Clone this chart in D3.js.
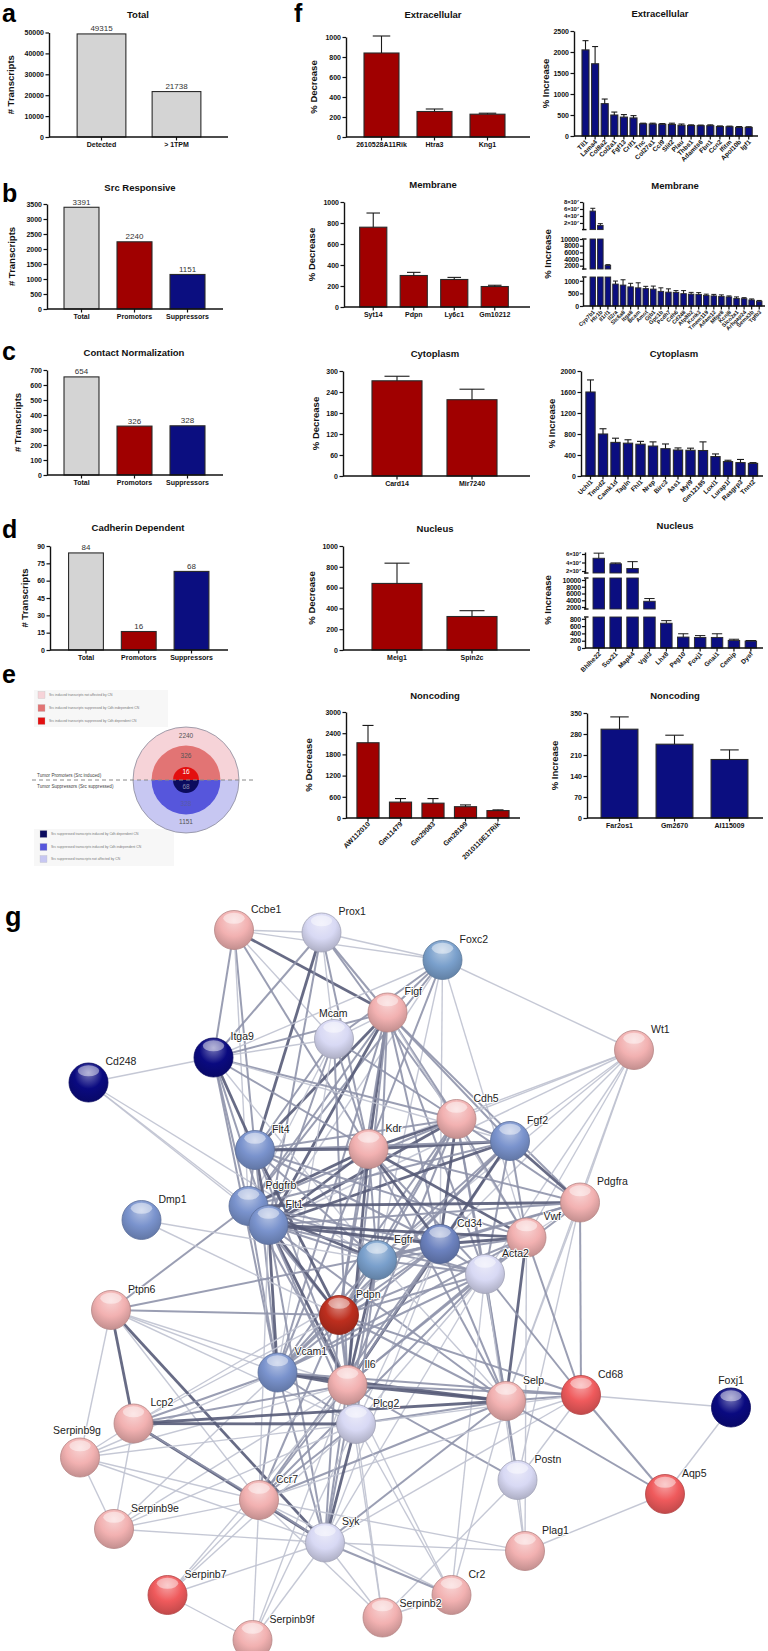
<!DOCTYPE html>
<html><head><meta charset="utf-8">
<script src="https://cdn.jsdelivr.net/npm/d3@7"></script>
<style>
body{margin:0;background:#fff;}
svg{display:block;font-family:"Liberation Sans",Arial,sans-serif;}
</style></head><body>
<svg id="fig" width="768" height="1651"></svg>
<script>
// ---------------- DATA ----------------
const aCats = ["Detected", "> 1TPM"];
const aVals = [49315, 21738];
const aTicks = [0, 10000, 20000, 30000, 40000, 50000];

const bCats = ["Total", "Promotors", "Suppressors"];
const bVals = [3391, 2240, 1151];
const bTicks = [0, 500, 1000, 1500, 2000, 2500, 3000, 3500];

const cCats = ["Total", "Promotors", "Suppressors"];
const cVals = [654, 326, 328];
const cTicks = [0, 100, 200, 300, 400, 500, 600, 700];

const dCats = ["Total", "Promotors", "Suppressors"];
const dVals = [84, 16, 68];
const dTicks = [0, 15, 30, 45, 60, 75, 90];

const eRingLabels = ["2240", "326", "16", "68", "328", "1151"];
const eLegendTop = ["Src induced transcripts not affected by CN", "Src induced transcripts suppressed by Cdh independent CN", "Src induced transcripts suppressed by Cdh dependent CN"];
const eLegendBottom = ["Src suppressed transcripts induced by Cdh dependent CN", "Src suppressed transcripts induced by Cdh independent CN", "Src suppressed transcripts not affected by CN"];

const extDecCats = ["2610528A11Rik", "Htra3", "Kng1"];
const extDecVals = [840, 255, 228];
const extDecErr = [170, 25, 10];
const memDecCats = ["Syt14", "Pdpn", "Ly6c1", "Gm10212"];
const memDecVals = [760, 300, 262, 195];
const memDecErr = [135, 30, 20, 12];
const cytDecCats = ["Card14", "Mir7240"];
const cytDecVals = [272, 218];
const cytDecErr = [13, 30];
const nucDecCats = ["Meig1", "Spin2c"];
const nucDecVals = [640, 322];
const nucDecErr = [195, 56];
const ncDecCats = ["AW112010", "Gm11479", "Gm29083", "Gm28199", "2010110E17Rik"];
const ncDecVals = [2130, 450, 420, 320, 210];
const ncDecErr = [490, 100, 130, 50, 20];

const extIncCats = ["Tll1", "Lama4", "Col8a2", "Col2a1", "Fgf13", "Crlf1", "Tnc", "Col27a1", "Ccl9", "Slit2", "Plau", "Thbs1", "Adamts6", "Fbn1", "Ccn2", "Ifitm", "Apol10b", "Igf1"];
const extIncVals = [2050, 1720, 770, 500, 450, 430, 290, 285, 280, 275, 255, 250, 245, 245, 225, 220, 205, 205];
const extIncErr = [220, 410, 110, 70, 60, 55, 15, 20, 15, 30, 30, 15, 15, 20, 15, 15, 20, 15];

const memIncCats = ["Cyp7b1", "Htr1b", "Il1rl1", "Il2ra", "Slc6a8", "Itga8", "Bcam", "Amot", "Gjb1", "Gpc1b", "Pcdh7", "Cdh6", "Cd248", "Atp8b2", "Kcnk3", "Tmem119", "Adam12", "Mfge8", "Kcnj8", "Slco2a1", "Arhgap24", "Sema3b", "Tgfb3"];
const memIncVals = [5.4e7, 1.3e7, 2100, 870, 830, 760, 720, 690, 670, 580, 550, 540, 490, 470, 460, 420, 400, 380, 360, 300, 290, 240, 190];
const memIncErr = [0.8e7, 0.5e7, 200, 120, 210, 140, 200, 90, 120, 140, 130, 70, 120, 70, 70, 50, 60, 60, 40, 60, 40, 40, 30];

const cytIncCats = ["Uchl1", "Tmod2", "Camk1d", "Tagln", "Fhl1", "Nrep", "Birc3", "Ass1", "Myl9", "Gm12185", "Loxl1", "Lurap1l", "Rasgrp3", "Tnnt2"];
const cytIncVals = [1600, 800, 640, 625, 605, 570, 520, 495, 490, 485, 370, 275, 255, 240];
const cytIncErr = [230, 100, 80, 65, 55, 80, 90, 40, 40, 165, 50, 25, 60, 15];

const nucIncCats = ["Bhlhe22", "Sox21", "Mapk4", "Vgll3", "Lhx8", "Peg10", "Foxj1", "Gnai1", "Cemip", "Dysf"];
const nucIncVals = [5.0e7, 3.7e7, 2.6e7, 3700, 680, 300, 290, 290, 205, 190];
const nucIncErr = [1.2e7, 0.2e7, 1.6e7, 800, 70, 90, 50, 100, 35, 15];

const ncIncCats = ["Far2os1", "Gm2670", "AI115009"];
const ncIncVals = [296, 246, 195];
const ncIncErr = [41, 30, 32];

// network (layout units)
const netNames = ["Ccbe1","Prox1","Foxc2","Figf","Mcam","Itga9","Cd248","Wt1","Cdh5","Fgf2","Kdr","Flt4","Pdgfra","Pdgfrb","Flt1","Dmp1","Vwf","Cd34","Egfr","Acta2","Ptpn6","Pdpn","Vcam1","Il6","Selp","Cd68","Foxj1","Lcp2","Plcg2","Serpinb9g","Postn","Aqp5","Ccr7","Serpinb9e","Syk","Plag1","Serpinb7","Cr2","Serpinb2","Serpinb9f"];
const netX = [468,643,885,775,668,427,177,1268,913,1020,737,510,1160,497,537,283,1053,880,754,970,222,678,555,695,1012,1162,1462,267,712,160,1035,1330,518,228,650,1050,335,903,765,505];
const netY = [100,105,160,265,318,355,405,340,478,522,538,540,645,652,690,680,715,728,760,788,860,870,985,1010,1042,1030,1055,1087,1088,1155,1200,1228,1240,1298,1325,1342,1430,1430,1475,1520];
const netGroup = ["pink","lav","steel2","pink","lav","navy","navy","pink","pink","steel","pink","steel","pink","steel","steel","steel","pink","steel3","steel2","lav","pink","dred","steel","pink","pink","red","navy","pink","lav","pink","lav","red","pink","pink","lav","pink","red","pink","pink","pink"];
const netEdges = [
["Ccbe1","Prox1",1],["Ccbe1","Foxc2",1],["Ccbe1","Figf",3],["Ccbe1","Itga9",2],["Ccbe1","Flt4",2],["Ccbe1","Kdr",2],["Ccbe1","Pdgfrb",1],["Ccbe1","Mcam",1],
["Prox1","Foxc2",1],["Prox1","Itga9",2],["Prox1","Flt4",3],["Prox1","Mcam",1],["Prox1","Kdr",2],["Prox1","Figf",2],["Prox1","Flt1",2],["Prox1","Cdh5",2],
["Foxc2","Wt1",1],["Foxc2","Figf",2],["Foxc2","Kdr",2],["Foxc2","Mcam",2],["Foxc2","Pdgfrb",2],["Foxc2","Flt1",1],["Foxc2","Cd34",1],["Foxc2","Egfr",1],["Foxc2","Vwf",1],["Foxc2","Itga9",1],
["Figf","Kdr",3],["Figf","Flt4",3],["Figf","Flt1",3],["Figf","Pdgfrb",2],["Figf","Cdh5",2],["Figf","Fgf2",2],["Figf","Pdgfra",2],["Figf","Cd34",2],["Figf","Egfr",2],["Figf","Pdpn",2],["Figf","Mcam",1],["Figf","Itga9",2],["Figf","Vwf",1],["Figf","Acta2",2],["Figf","Il6",2],["Figf","Vcam1",2],
["Mcam","Itga9",1],["Mcam","Kdr",2],["Mcam","Cdh5",2],["Mcam","Flt1",2],["Mcam","Pdgfrb",1],["Mcam","Il6",2],["Mcam","Vcam1",1],["Mcam","Flt4",2],
["Itga9","Cd248",1],["Itga9","Flt4",3],["Itga9","Pdgfrb",2],["Itga9","Flt1",2],["Itga9","Kdr",2],["Itga9","Cdh5",2],["Itga9","Vcam1",2],["Itga9","Fgf2",1],["Itga9","Egfr",1],
["Cd248","Pdgfrb",1],["Cd248","Flt1",1],["Cd248","Egfr",1],
["Wt1","Fgf2",1],["Wt1","Pdgfra",1],["Wt1","Vwf",1],["Wt1","Cd34",1],["Wt1","Acta2",1],["Wt1","Kdr",1],["Wt1","Cdh5",1],["Wt1","Egfr",1],["Wt1","Selp",1],["Wt1","Flt1",1],
["Cdh5","Kdr",3],["Cdh5","Fgf2",2],["Cdh5","Flt4",2],["Cdh5","Flt1",3],["Cdh5","Pdgfrb",2],["Cdh5","Cd34",3],["Cdh5","Vwf",2],["Cdh5","Egfr",2],["Cdh5","Pdgfra",2],["Cdh5","Selp",2],["Cdh5","Vcam1",2],["Cdh5","Il6",2],["Cdh5","Acta2",2],["Cdh5","Pdpn",2],
["Fgf2","Kdr",3],["Fgf2","Flt1",3],["Fgf2","Pdgfrb",2],["Fgf2","Pdgfra",3],["Fgf2","Egfr",2],["Fgf2","Cd34",2],["Fgf2","Vwf",2],["Fgf2","Acta2",2],["Fgf2","Il6",3],["Fgf2","Pdpn",2],["Fgf2","Vcam1",2],["Fgf2","Flt4",2],
["Kdr","Flt4",3],["Kdr","Flt1",3],["Kdr","Pdgfrb",3],["Kdr","Cd34",3],["Kdr","Egfr",2],["Kdr","Vwf",3],["Kdr","Pdpn",2],["Kdr","Il6",3],["Kdr","Vcam1",2],["Kdr","Acta2",2],["Kdr","Pdgfra",2],["Kdr","Selp",2],
["Flt4","Flt1",3],["Flt4","Pdgfrb",2],["Flt4","Pdpn",3],["Flt4","Il6",2],["Flt4","Vcam1",2],["Flt4","Cd34",2],["Flt4","Egfr",2],["Flt4","Vwf",2],
["Pdgfra","Pdgfrb",3],["Pdgfra","Flt1",2],["Pdgfra","Acta2",2],["Pdgfra","Egfr",2],["Pdgfra","Cd34",2],["Pdgfra","Vwf",1],["Pdgfra","Selp",1],["Pdgfra","Postn",1],["Pdgfra","Cd68",2],
["Pdgfrb","Flt1",3],["Pdgfrb","Egfr",3],["Pdgfrb","Acta2",2],["Pdgfrb","Cd34",2],["Pdgfrb","Pdpn",2],["Pdgfrb","Vcam1",2],["Pdgfrb","Ptpn6",2],["Pdgfrb","Il6",2],
["Flt1","Egfr",2],["Flt1","Cd34",3],["Flt1","Vwf",3],["Flt1","Acta2",2],["Flt1","Pdpn",3],["Flt1","Vcam1",3],["Flt1","Il6",3],["Flt1","Plcg2",2],["Flt1","Syk",2],["Flt1","Ccr7",1],["Flt1","Selp",2],
["Dmp1","Pdpn",1],["Dmp1","Egfr",1],
["Vwf","Cd34",3],["Vwf","Acta2",2],["Vwf","Egfr",2],["Vwf","Selp",3],["Vwf","Il6",2],["Vwf","Vcam1",2],["Vwf","Cd68",2],["Vwf","Pdpn",2],["Vwf","Plag1",1],
["Cd34","Egfr",2],["Cd34","Acta2",2],["Cd34","Selp",2],["Cd34","Il6",2],["Cd34","Vcam1",2],["Cd34","Pdpn",2],["Cd34","Ptpn6",2],["Cd34","Lcp2",1],["Cd34","Plcg2",1],["Cd34","Syk",1],["Cd34","Ccr7",2],
["Egfr","Acta2",2],["Egfr","Pdpn",2],["Egfr","Il6",3],["Egfr","Vcam1",2],["Egfr","Plcg2",2],["Egfr","Syk",2],["Egfr","Selp",1],
["Acta2","Pdpn",2],["Acta2","Il6",2],["Acta2","Selp",2],["Acta2","Cd68",2],["Acta2","Postn",2],["Acta2","Ccr7",2],["Acta2","Syk",1],["Acta2","Plcg2",1],["Acta2","Vcam1",2],["Acta2","Cr2",1],["Acta2","Plag1",1],
["Ptpn6","Pdpn",2],["Ptpn6","Il6",1],["Ptpn6","Lcp2",3],["Ptpn6","Syk",3],["Ptpn6","Ccr7",1],["Ptpn6","Plcg2",1],["Ptpn6","Vcam1",1],["Ptpn6","Serpinb9g",1],
["Pdpn","Il6",2],["Pdpn","Vcam1",2],["Pdpn","Plcg2",2],["Pdpn","Syk",2],["Pdpn","Selp",2],["Pdpn","Cd68",2],["Pdpn","Ccr7",2],["Pdpn","Lcp2",1],
["Vcam1","Il6",3],["Vcam1","Selp",3],["Vcam1","Lcp2",2],["Vcam1","Plcg2",2],["Vcam1","Syk",2],["Vcam1","Ccr7",2],["Vcam1","Serpinb9g",1],["Vcam1","Serpinb9e",1],["Vcam1","Cd68",2],
["Il6","Selp",3],["Il6","Cd68",2],["Il6","Plcg2",2],["Il6","Syk",2],["Il6","Ccr7",2],["Il6","Lcp2",2],["Il6","Serpinb9g",1],["Il6","Serpinb9e",1],["Il6","Serpinb7",1],["Il6","Serpinb2",1],["Il6","Serpinb9f",1],["Il6","Cr2",1],["Il6","Postn",2],
["Selp","Cd68",2],["Selp","Plcg2",2],["Selp","Syk",2],["Selp","Postn",2],["Selp","Ccr7",2],["Selp","Cr2",1],["Selp","Lcp2",3],
["Cd68","Foxj1",1],["Cd68","Aqp5",2],["Cd68","Postn",1],["Cd68","Plcg2",1],["Cd68","Syk",1],["Cd68","Ccr7",1],
["Foxj1","Aqp5",1],
["Lcp2","Plcg2",3],["Lcp2","Syk",3],["Lcp2","Ccr7",2],["Lcp2","Serpinb9g",1],["Lcp2","Serpinb9e",1],
["Plcg2","Syk",3],["Plcg2","Ccr7",2],["Plcg2","Serpinb2",1],["Plcg2","Serpinb9f",1],["Plcg2","Cr2",1],["Plcg2","Serpinb7",1],["Plcg2","Serpinb9g",1],
["Serpinb9g","Ccr7",1],["Serpinb9g","Serpinb9e",1],["Serpinb9g","Syk",1],
["Postn","Plag1",1],["Postn","Serpinb2",1],
["Aqp5","Plag1",1],["Aqp5","Selp",2],
["Ccr7","Syk",2],["Ccr7","Serpinb9e",1],["Ccr7","Serpinb7",1],["Ccr7","Serpinb9f",1],["Ccr7","Serpinb2",1],["Ccr7","Cr2",1],["Ccr7","Plag1",1],
["Serpinb9e","Syk",1],["Serpinb9e","Plcg2",1],
["Syk","Serpinb7",1],["Syk","Serpinb2",1],["Syk","Serpinb9f",1],["Syk","Cr2",2],["Syk","Plag1",1],
["Serpinb7","Serpinb9f",1],["Cr2","Serpinb2",1]
];

// ---------------- STYLE ----------------
const GRAY = "#d4d4d4", RED = "#a00000", BLUE = "#0b0e80";
const svg = d3.select("#fig");
const FONT = '"Liberation Sans", Arial, sans-serif';

function letter(t, x, y, size) {
  svg.append("text").attr("x", x).attr("y", y).text(t)
    .attr("font-size", size || 25).attr("font-weight", "bold").attr("fill", "#000");
}

function styleAxis(sel, fs) {
  sel.attr("color", "#111");
  sel.select(".domain").attr("stroke", "#111").attr("stroke-width", 1.4);
  sel.selectAll(".tick line").attr("stroke", "#111").attr("stroke-width", 1.2);
  sel.selectAll(".tick text").attr("font-size", fs || 7).attr("font-weight", "bold")
    .attr("fill", "#111").attr("font-family", FONT);
}

function barChart(c) {
  const g = svg.append("g");
  const x = d3.scaleBand().domain(c.cats).range(c.band).paddingInner(c.pad).paddingOuter(c.pad / 2);
  const y = d3.scaleLinear().domain([0, c.max]).range([c.yBot, c.yTop]);
  const col = (i) => Array.isArray(c.color) ? c.color[i] : c.color;
  g.selectAll("rect").data(c.cats).join("rect")
    .attr("x", d => x(d)).attr("width", x.bandwidth())
    .attr("y", (d, i) => y(c.vals[i])).attr("height", (d, i) => c.yBot - y(c.vals[i]))
    .attr("fill", (d, i) => col(i)).attr("stroke", "#2a2a2a").attr("stroke-width", 1.1);
  if (c.errs) {
    const capW = c.capW || x.bandwidth() * 0.5;
    c.cats.forEach((d, i) => {
      const cx = x(d) + x.bandwidth() / 2, y1 = y(c.vals[i]), y2 = y(c.vals[i] + c.errs[i]);
      g.append("line").attr("x1", cx).attr("x2", cx).attr("y1", y1).attr("y2", y2).attr("stroke", "#1a1a1a").attr("stroke-width", 1.1);
      g.append("line").attr("x1", cx - capW / 2).attr("x2", cx + capW / 2).attr("y1", y2).attr("y2", y2).attr("stroke", "#1a1a1a").attr("stroke-width", 1.1);
    });
  }
  if (c.valueLabels) {
    g.selectAll("text.vl").data(c.cats).join("text").attr("class", "vl")
      .attr("x", d => x(d) + x.bandwidth() / 2).attr("y", (d, i) => y(c.vals[i]) - 2.5)
      .attr("text-anchor", "middle").attr("font-size", 8).attr("fill", "#333").text((d, i) => c.vals[i]);
  }
  const ya = g.append("g").attr("transform", `translate(${c.axisX},0)`)
    .call(d3.axisLeft(y).tickValues(c.ticks).tickSize(3.5).tickSizeOuter(0).tickPadding(1.5).tickFormat(d3.format("d")));
  styleAxis(ya, c.tickFs);
  const xa = g.append("g").attr("transform", `translate(0,${c.yBot})`)
    .call(d3.axisBottom(x).tickSize(3.5).tickSizeOuter(0).tickPadding(2));
  xa.select(".domain").attr("d", `M${c.axisX},0H${c.xEnd}`);
  styleAxis(xa, c.xFs || c.tickFs);
  if (c.rotate) {
    xa.selectAll(".tick text").attr("y", 0).attr("dy", 0).attr("text-anchor", "end")
      .attr("transform", "translate(2.5,6.5) rotate(-45)");
  }
  g.append("text").attr("x", c.titleX).attr("y", c.titleY).attr("text-anchor", "middle")
    .attr("font-size", 9.5).attr("font-weight", "bold").attr("fill", "#111").text(c.title);
  g.append("text").attr("transform", `translate(${c.ylabX},${(c.yBot + c.yTop) / 2}) rotate(-90)`)
    .attr("text-anchor", "middle").attr("font-size", 9.5).attr("font-weight", "bold").attr("fill", "#111").text(c.ylab);
}

function brokenChart(c) {
  const g = svg.append("g");
  const x = d3.scaleBand().domain(c.cats).range(c.band).paddingInner(c.pad).paddingOuter(c.pad / 2);
  const bw = x.bandwidth();
  c.segs.forEach((s, si) => {
    const y = d3.scaleLinear().domain([s.lo, s.hi]).range([s.yLo, s.yHi]);
    c.cats.forEach((d, i) => {
      const v = c.vals[i];
      if (v > s.lo) {
        const top = y(Math.min(v, s.hi));
        g.append("rect").attr("x", x(d)).attr("width", bw).attr("y", top).attr("height", s.yLo - top)
          .attr("fill", c.color).attr("stroke", "#2a2a2a").attr("stroke-width", 0.9);
      }
      if (v >= s.lo && v <= s.hi) {
        const cx = x(d) + bw / 2, y1 = y(v), e = Math.min(v + c.errs[i], s.hi), y2 = y(e);
        g.append("line").attr("x1", cx).attr("x2", cx).attr("y1", y1).attr("y2", y2).attr("stroke", "#1a1a1a").attr("stroke-width", 1);
        g.append("line").attr("x1", cx - bw * 0.45).attr("x2", cx + bw * 0.45).attr("y1", y2).attr("y2", y2).attr("stroke", "#1a1a1a").attr("stroke-width", 1);
      }
    });
    const ya = g.append("g").attr("transform", `translate(${c.axisX},0)`)
      .call(d3.axisLeft(y).tickValues(s.ticks).tickSize(3).tickSizeOuter(0).tickPadding(1).tickFormat(s.fmt));
    styleAxis(ya, s.fs || 7);
    ya.selectAll(".tick text").attr("letter-spacing", -0.2);
    if (si > 0) g.append("line").attr("x1", c.axisX - 1).attr("x2", c.axisX + 3.5).attr("y1", s.yHi).attr("y2", s.yHi).attr("stroke", "#111").attr("stroke-width", 1.4);
    if (si < c.segs.length - 1) g.append("line").attr("x1", c.axisX - 1).attr("x2", c.axisX + 3.5).attr("y1", s.yLo).attr("y2", s.yLo).attr("stroke", "#111").attr("stroke-width", 1.4);
  });
  const yBot = c.segs[c.segs.length - 1].yLo;
  const xa = g.append("g").attr("transform", `translate(0,${yBot})`)
    .call(d3.axisBottom(x).tickSize(3.5).tickSizeOuter(0).tickPadding(2));
  xa.select(".domain").attr("d", `M${c.axisX},0H${c.xEnd}`);
  styleAxis(xa, c.xFs);
  xa.selectAll(".tick text").attr("y", 0).attr("dy", 0).attr("text-anchor", "end")
    .attr("transform", "translate(2.5,6.5) rotate(-45)");
  g.append("text").attr("x", c.titleX).attr("y", c.titleY).attr("text-anchor", "middle")
    .attr("font-size", 9.5).attr("font-weight", "bold").attr("fill", "#111").text(c.title);
  const yTop = c.segs[0].yHi;
  g.append("text").attr("transform", `translate(${c.ylabX},${(yBot + yTop) / 2}) rotate(-90)`)
    .attr("text-anchor", "middle").attr("font-size", 9.5).attr("font-weight", "bold").attr("fill", "#111").text(c.ylab);
}

// ---------------- PANELS a-d ----------------
letter("a", 2, 22); letter("b", 2, 202); letter("c", 2, 360); letter("d", 2, 538); letter("e", 2, 683); letter("f", 294, 22); letter("g", 5, 926, 27);

barChart({cats: aCats, vals: aVals, color: GRAY, band: [64, 214], pad: 0.35, axisX: 49, xEnd: 228, yTop: 32.5, yBot: 137,
  max: 50000, ticks: aTicks, title: "Total", titleX: 138, titleY: 18, ylab: "# Transcripts", ylabX: 14, valueLabels: true});
barChart({cats: bCats, vals: bVals, color: [GRAY, RED, BLUE], band: [55, 214], pad: 0.34, axisX: 47, xEnd: 223, yTop: 204, yBot: 309,
  max: 3500, ticks: bTicks, title: "Src Responsive", titleX: 140, titleY: 191, ylab: "# Transcripts", ylabX: 15, valueLabels: true});
barChart({cats: cCats, vals: cVals, color: [GRAY, RED, BLUE], band: [55, 214], pad: 0.34, axisX: 47, xEnd: 223, yTop: 370, yBot: 475,
  max: 700, ticks: cTicks, title: "Contact Normalization", titleX: 134, titleY: 356, ylab: "# Transcripts", ylabX: 21, valueLabels: true});
barChart({cats: dCats, vals: dVals, color: [GRAY, RED, BLUE], band: [59.6, 217.9], pad: 0.34, axisX: 50, xEnd: 228, yTop: 546, yBot: 650,
  max: 90, ticks: dTicks, title: "Cadherin Dependent", titleX: 138, titleY: 531, ylab: "# Transcripts", ylabX: 28, valueLabels: true});

// ---------------- PANEL e ----------------
(function () {
  const g = svg.append("g");
  const cx = 186, cy = 780;
  const r = d3.scaleLinear().domain([0, 1]).range([0, 53]);
  const rings = [1, 0.65, 0.245];
  const topCols = ["#f6d3d8", "#e27474", "#e30f0f"];
  const botCols = ["#c7c7f2", "#5656dc", "#0b0b5e"];
  const arcTop = d3.arc().startAngle(-Math.PI / 2).endAngle(Math.PI / 2).innerRadius(0);
  const arcBot = d3.arc().startAngle(Math.PI / 2).endAngle(Math.PI * 1.5).innerRadius(0);
  g.append("rect").attr("x", 34).attr("y", 690).attr("width", 134).attr("height", 37).attr("fill", "#f7f7f7");
  g.append("rect").attr("x", 34).attr("y", 829).attr("width", 140).attr("height", 37).attr("fill", "#f7f7f7");
  rings.forEach((k, i) => {
    g.append("path").attr("transform", `translate(${cx},${cy})`).attr("d", arcTop.outerRadius(r(k))()).attr("fill", topCols[i]);
    g.append("path").attr("transform", `translate(${cx},${cy})`).attr("d", arcBot.outerRadius(r(k))()).attr("fill", botCols[i]);
  });
  g.append("circle").attr("cx", cx).attr("cy", cy).attr("r", r(1)).attr("fill", "none").attr("stroke", "#8a8a9a").attr("stroke-width", 0.8);
  g.append("line").attr("x1", 32).attr("x2", 253).attr("y1", cy).attr("y2", cy).attr("stroke", "#888").attr("stroke-width", 1).attr("stroke-dasharray", "4,3");
  const ly = [736, 756, 772, 787, 804, 822];
  const lc = ["#555", "#555", "#fff", "#8888aa", "#5a5aa8", "#555"];
  eRingLabels.forEach((t, i) => g.append("text").attr("x", cx).attr("y", ly[i]).attr("dy", "0.35em").attr("text-anchor", "middle")
    .attr("font-size", 6.5).attr("fill", lc[i]).text(t));
  g.append("text").attr("x", 37).attr("y", 777).attr("font-size", 4.6).attr("fill", "#444").text("Tumor Promoters (Src induced)");
  g.append("text").attr("x", 37).attr("y", 788).attr("font-size", 4.6).attr("fill", "#444").text("Tumor Suppressors (Src suppressed)");
  const topBox = ["#f6d3d8", "#e27474", "#e30f0f"], botBox = ["#0b0b5e", "#5656dc", "#c7c7f2"];
  const ty = [695, 708, 721], by = [834, 847, 859];
  eLegendTop.forEach((t, i) => {
    g.append("rect").attr("x", 38).attr("y", ty[i] - 3.5).attr("width", 7).attr("height", 7).attr("fill", topBox[i]).attr("stroke", "#bbb").attr("stroke-width", 0.3);
    g.append("text").attr("x", 49).attr("y", ty[i]).attr("dy", "0.35em").attr("font-size", 3.4).attr("fill", "#777").text(t);
  });
  eLegendBottom.forEach((t, i) => {
    g.append("rect").attr("x", 40).attr("y", by[i] - 3.5).attr("width", 7).attr("height", 7).attr("fill", botBox[i]).attr("stroke", "#bbb").attr("stroke-width", 0.3);
    g.append("text").attr("x", 51).attr("y", by[i]).attr("dy", "0.35em").attr("font-size", 3.4).attr("fill", "#777").text(t);
  });
})();

// ---------------- PANEL f: decrease ----------------
barChart({cats: extDecCats, vals: extDecVals, errs: extDecErr, color: RED, band: [355, 514], pad: 0.34, axisX: 346, xEnd: 530, yTop: 37, yBot: 137,
  max: 1000, ticks: [0, 200, 400, 600, 800, 1000], title: "Extracellular", titleX: 433, titleY: 18, ylab: "% Decrease", ylabX: 317});
barChart({cats: memDecCats, vals: memDecVals, errs: memDecErr, color: RED, band: [353, 515], pad: 0.33, axisX: 344, xEnd: 530, yTop: 202, yBot: 307,
  max: 1000, ticks: [0, 200, 400, 600, 800, 1000], title: "Membrane", titleX: 433, titleY: 188, ylab: "% Decrease", ylabX: 315});
barChart({cats: cytDecCats, vals: cytDecVals, errs: cytDecErr, color: RED, band: [359.5, 509.5], pad: 0.333, axisX: 343, xEnd: 530, yTop: 371, yBot: 476,
  max: 300, ticks: [0, 60, 120, 180, 240, 300], title: "Cytoplasm", titleX: 435, titleY: 357, ylab: "% Decrease", ylabX: 319});
barChart({cats: nucDecCats, vals: nucDecVals, errs: nucDecErr, color: RED, band: [359.5, 509.5], pad: 0.333, axisX: 343, xEnd: 530, yTop: 546, yBot: 650,
  max: 1000, ticks: [0, 200, 400, 600, 800, 1000], title: "Nucleus", titleX: 435, titleY: 532, ylab: "% Decrease", ylabX: 315});
barChart({cats: ncDecCats, vals: ncDecVals, errs: ncDecErr, color: RED, band: [351.75, 514.25], pad: 0.32, axisX: 346, xEnd: 520, yTop: 712, yBot: 818,
  max: 3000, ticks: [0, 600, 1200, 1800, 2400, 3000], title: "Noncoding", titleX: 435, titleY: 699, ylab: "% Decrease", ylabX: 312, rotate: true});

// ---------------- PANEL f: increase ----------------
barChart({cats: extIncCats, vals: extIncVals, errs: extIncErr, capW: 6, color: BLUE, band: [580.7, 753.5], pad: 0.27, axisX: 574, xEnd: 758, yTop: 31, yBot: 136,
  max: 2500, ticks: [0, 500, 1000, 1500, 2000, 2500], title: "Extracellular", titleX: 660, titleY: 17, ylab: "% Increase", ylabX: 549, rotate: true, xFs: 6.5});
const e7 = d => d === 0 ? "0" : (d / 1e7) + "×10\u2077";
brokenChart({cats: memIncCats, vals: memIncVals, errs: memIncErr, color: BLUE, band: [589, 763], pad: 0.27, axisX: 583, xEnd: 765,
  segs: [
    {lo: 1e6, hi: 8e7, yLo: 229.6, yHi: 202, ticks: [2e7, 4e7, 6e7, 8e7], fmt: e7, fs: 6},
    {lo: 1000, hi: 10000, yLo: 269, yHi: 239, ticks: [2000, 4000, 6000, 8000, 10000], fmt: d3.format("d")},
    {lo: 0, hi: 1150, yLo: 306, yHi: 277, ticks: [0, 500, 1000], fmt: d3.format("d")}
  ], title: "Membrane", titleX: 675, titleY: 189, ylab: "% Increase", ylabX: 551, xFs: 5.6});
barChart({cats: cytIncCats, vals: cytIncVals, errs: cytIncErr, capW: 7, color: BLUE, band: [584.25, 759.25], pad: 0.26, axisX: 581, xEnd: 763, yTop: 371, yBot: 476,
  max: 2000, ticks: [0, 400, 800, 1200, 1600, 2000], title: "Cytoplasm", titleX: 674, titleY: 357, ylab: "% Increase", ylabX: 555, rotate: true, xFs: 6.5});
brokenChart({cats: nucIncCats, vals: nucIncVals, errs: nucIncErr, color: BLUE, band: [590.3, 759.3], pad: 0.32, axisX: 585, xEnd: 763,
  segs: [
    {lo: 1.53e7, hi: 6.47e7, yLo: 573, yHi: 552, ticks: [2e7, 4e7, 6e7], fmt: e7, fs: 6},
    {lo: 1407, hi: 10593, yLo: 609, yHi: 578, ticks: [2000, 4000, 6000, 8000, 10000], fmt: d3.format("d")},
    {lo: 0, hi: 850, yLo: 648, yHi: 617, ticks: [0, 200, 400, 600, 800], fmt: d3.format("d")}
  ], title: "Nucleus", titleX: 675, titleY: 529, ylab: "% Increase", ylabX: 551, xFs: 6.5});
barChart({cats: ncIncCats, vals: ncIncVals, errs: ncIncErr, color: BLUE, band: [592, 757], pad: 0.33, axisX: 587, xEnd: 763, yTop: 713, yBot: 818,
  max: 350, ticks: [0, 70, 140, 210, 280, 350], title: "Noncoding", titleX: 675, titleY: 699, ylab: "% Increase", ylabX: 558});

// ---------------- PANEL g: network ----------------
(function () {
  const g = svg.append("g");
  const sx = d3.scaleLinear().domain([0, 1536]).range([0, 768]);
  const sy = d3.scaleLinear().domain([0, 1540]).range([880, 1650]);
  const idx = {};
  netNames.forEach((n, i) => idx[n] = i);
  const w = d3.scaleOrdinal().domain([1, 2, 3]).range([1.4, 2.0, 2.8]);
  const ec = d3.scaleOrdinal().domain([1, 2, 3]).range(["#bfc2d0", "#8f93ab", "#575b78"]);
  g.selectAll("line").data(netEdges).join("line")
    .attr("x1", d => sx(netX[idx[d[0]]])).attr("y1", d => sy(netY[idx[d[0]]]))
    .attr("x2", d => sx(netX[idx[d[1]]])).attr("y2", d => sy(netY[idx[d[1]]]))
    .attr("stroke", d => ec(d[2])).attr("stroke-width", d => w(d[2])).attr("stroke-opacity", 0.9);
  const cols = {pink: "#f2b1b1", lav: "#d8d9f4", steel: "#7a93cd", steel2: "#7aa0cc", steel3: "#6c82bf", navy: "#0a0a80", red: "#ef5a5c", dred: "#bd2e1e"};
  const defs = svg.append("defs");
  Object.entries(cols).forEach(([k, c]) => {
    const base = d3.color(c);
    const gr = defs.append("radialGradient").attr("id", "grad-" + k).attr("cx", "50%").attr("cy", "35%").attr("r", "65%").attr("fx", "50%").attr("fy", "25%");
    gr.append("stop").attr("offset", "0%").attr("stop-color", d3.interpolateRgb(c, "#fff")(0.45));
    gr.append("stop").attr("offset", "55%").attr("stop-color", c);
    gr.append("stop").attr("offset", "100%").attr("stop-color", base.darker(0.6).formatHex());
  });
  const rr = 19.5;
  const nodes = g.selectAll("g.node").data(netNames).join("g").attr("class", "node")
    .attr("transform", (d, i) => `translate(${sx(netX[i])},${sy(netY[i])})`);
  nodes.append("circle").attr("r", rr).attr("fill", (d, i) => `url(#grad-${netGroup[i]})`)
    .attr("stroke", (d, i) => d3.color(cols[netGroup[i]]).darker(0.8).formatHex()).attr("stroke-width", 0.8);
  nodes.append("ellipse").attr("cx", 0).attr("cy", -rr * 0.6).attr("rx", rr * 0.55).attr("ry", rr * 0.28)
    .attr("fill", "#fff").attr("fill-opacity", 0.45);
  const special = {Mcam: [-15, -26, "start"], Foxj1: [0, -27, "middle"], Serpinb9g: [-3, -27, "middle"], Serpinb2: [17, -14, "start"]};
  nodes.append("text")
    .attr("x", d => special[d] ? special[d][0] : 17).attr("y", d => special[d] ? special[d][1] : -21)
    .attr("dy", "0.35em").attr("text-anchor", d => special[d] ? special[d][2] : "start")
    .attr("font-size", 10.5).attr("fill", "#222")
    .attr("stroke", "#fff").attr("stroke-width", 2).attr("paint-order", "stroke").attr("stroke-linejoin", "round")
    .text(d => d);
})();
</script></body></html>
